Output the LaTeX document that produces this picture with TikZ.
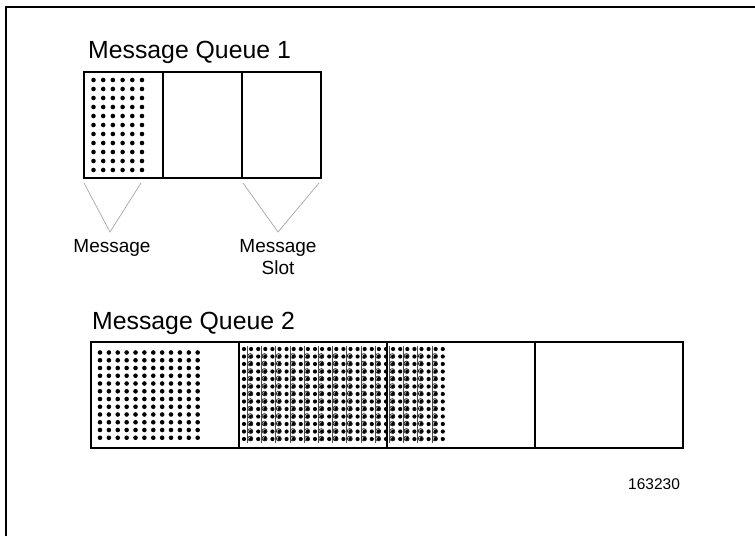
\documentclass[tikz,border=0pt]{standalone}
\usepackage{fontspec}
\setmainfont{Liberation Sans}
\begin{document}
\begin{tikzpicture}[x=1pt,y=-1pt,
  slotbox/.style={draw=black,line width=1.3pt,minimum width=79pt,minimum height=106pt,inner sep=0pt,outer sep=0pt,anchor=north west},
  slotboxb/.style={draw=black,line width=1.3pt,minimum width=148pt,minimum height=106pt,inner sep=0pt,outer sep=0pt,anchor=north west},
  titletext/.style={anchor=base west,inner sep=0pt,font=\fontsize{24.8}{28}\selectfont},
  labeltext/.style={anchor=base,inner sep=0pt,font=\fontsize{19}{22}\selectfont,align=center},
  pointer/.style={draw=black!35,line width=0.7pt},
  dotfill/.style={fill=black}
]
\useasboundingbox (0,0) rectangle (755,536);
% frame
\draw[line width=1.3pt] (6,536) -- (6,7) -- (755,7);

% Queue 1
\node[titletext] (t1) at (88,58) {Message Queue 1};
\node[slotbox] (a1) at (84,72) {};
\node[slotbox] (a2) at (a1.north east) {};
\node[slotbox] (a3) at (a2.north east) {};
\foreach \i in {0,...,5}
  \foreach \j in {0,...,10}
    \fill[dotfill] (93.5+9.7*\i,80+9*\j) circle[radius=2.3pt];

% pointers
\coordinate (v1l) at (84,183);
\coordinate (v1a) at (110,232);
\coordinate (v1r) at (141,183);
\coordinate (v2l) at (243,183);
\coordinate (v2a) at (278,232);
\coordinate (v2r) at (319,183);
\draw[pointer] (v1l) -- (v1a) -- (v1r);
\draw[pointer] (v2l) -- (v2a) -- (v2r);
\node[labeltext] (l1) at (112,252) {Message};
\node[labeltext] (l2a) at (278,252) {Message};
\node[labeltext] (l2b) at (278,274) {Slot};

% Queue 2
\node[titletext] (t2) at (92,329) {Message Queue 2};
\node[slotboxb] (b1) at (91,342) {};
\node[slotboxb] (b2) at (b1.north east) {};
\node[slotboxb] (b3) at (b2.north east) {};
\node[slotboxb] (b4) at (b3.north east) {};
\foreach \i in {0,...,11}
  \foreach \j in {0,...,11}
    \fill[dotfill] (100+8.88*\i,352.5+7.75*\j) circle[radius=2.3pt];

% patterned message spanning slots 2-3
\foreach \j in {0,...,12} {
  \foreach \k in {0,...,28}
    \fill[dotfill] (244+7.1*\k,349+7.5*\j) circle[radius=2.1pt];
}
\foreach \u in {0,...,13} {
  \draw[black!70,line width=0.7pt] (247.4+14.2*\u,346) -- (247.4+14.2*\u,443);
  \foreach \j in {0,...,11}
    \draw[black!85,line width=0.7pt] (250.3+14.2*\u,356+7.5*\j) circle[radius=2.4pt];
}

% id
\node[anchor=base west,inner sep=0pt,font=\fontsize{15.5}{18}\selectfont] (id) at (628,489) {163230};
\end{tikzpicture}
\end{document}
